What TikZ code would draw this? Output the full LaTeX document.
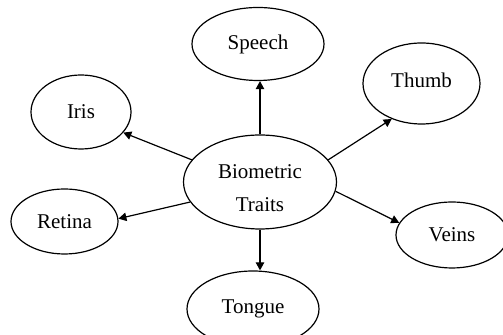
\documentclass[tikz,border=0pt]{standalone}
\usepackage{fontspec}
\setmainfont{Liberation Serif}
\usetikzlibrary{shapes.geometric, arrows.meta}

\begin{document}
\begin{tikzpicture}[
		x=0.5pt, y=-0.5pt,
		% Styles
		trait/.style={ellipse, draw=black, line width=0.6pt, inner sep=1pt, font=\fontsize{10.5}{16.3}\selectfont},
		hub/.style={trait, align=center},
		arrow/.style={-{Triangle[length=4pt, width=4.2pt]}, line width=0.6pt}
	]

	\useasboundingbox (0,0) rectangle (503,335);
	\clip (0,0) rectangle (503,335);

	% --- Centre ---
	\node[hub, minimum width=76.5pt, minimum height=47pt] (traits) at (260,182) {\rule{0pt}{13pt}Biometric\\Traits};

	% --- Traits around it ---
	\node[trait, minimum width=66pt, minimum height=36.5pt] (speech) at (258,44) {Speech};
	\node[trait, minimum width=58.5pt, minimum height=40.5pt] (thumb) at (421.5,83.5) {Thumb\rule[-3.5pt]{0pt}{0pt}};
	\node[trait, minimum width=50pt, minimum height=37pt] (iris) at (81,112) {Iris};
	\node[trait, minimum width=53.5pt, minimum height=32.5pt] (retina) at (64.5,221.5) {Retina};
	\node[trait, minimum width=56pt, minimum height=33pt] (veins) at (452,235) {Veins};
	\node[trait, minimum width=66pt, minimum height=38pt] (tongue) at (253,309) {Tongue};

	% --- ARROWS ---
	\draw[arrow] (traits.north) -- (traits.north |- speech.south);
	\draw[arrow] (traits.18) -- (thumb.230);
	\draw[arrow] (traits.162) -- (iris.334);
	\draw[arrow] (traits.196) -- (retina.3);
	\draw[arrow] (traits.353) -- (veins.167);
	\draw[arrow] (traits.south) -- (traits.south |- tongue.north);

\end{tikzpicture}
\end{document}
